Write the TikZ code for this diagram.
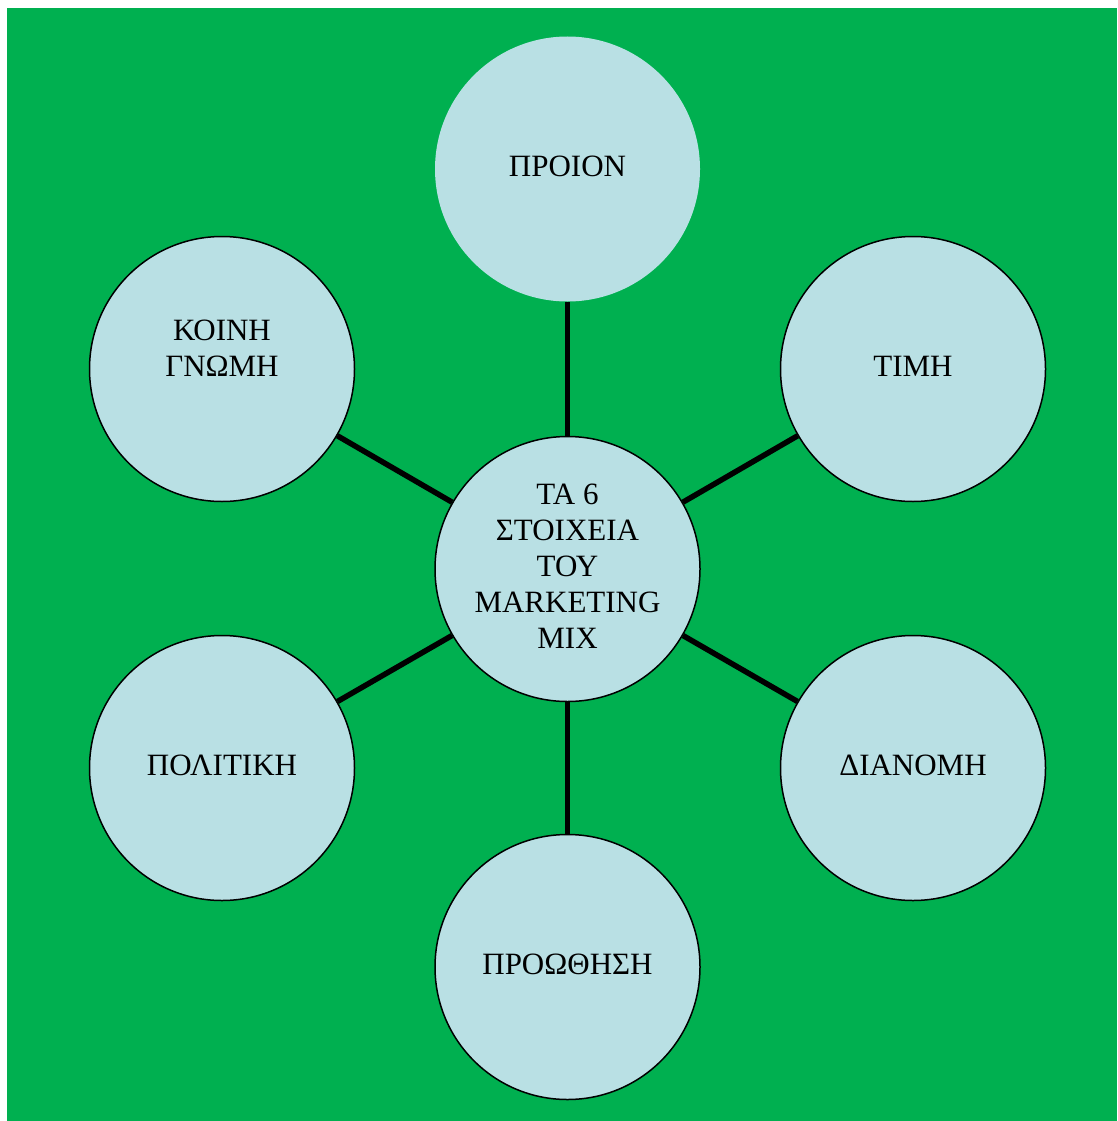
\documentclass[tikz,border=0pt]{standalone}
\usepackage{fontspec}
\setmainfont{Liberation Serif}
\definecolor{bggreen}{HTML}{00B050}
\definecolor{bubble}{HTML}{B9E0E4}
\begin{document}
\begin{tikzpicture}[x=1pt,y=-1pt,
  bubblenode/.style={circle,fill=bubble,minimum size=265pt,inner sep=0pt,
    align=center,text depth=6pt,font=\fontsize{31}{36}\selectfont},
  outlined/.style={bubblenode,draw=black,line width=1.5pt},
  spoke/.style={line width=5.5pt,black}]
\useasboundingbox (0,0) rectangle (1117,1121);
\fill[bggreen] (7,8) rectangle (1117,1121);

\node[bubblenode] (prod) at (567.5,169) {ΠΡΟΙΟΝ};
\node[outlined] (mix) at (567.5,569) {ΤΑ 6\\ΣΤΟΙΧΕΙΑ\\ΤΟΥ\\MARKETING\\MIX};
\node[outlined] (price) at (913,369) {ΤΙΜΗ};
\node[outlined] (dist) at (913,768) {ΔΙΑΝΟΜΗ};
\node[outlined] (promo) at (567.5,967) {ΠΡΟΩΘΗΣΗ};
\node[outlined] (pol) at (222,768) {ΠΟΛΙΤΙΚΗ};
\node[outlined] (opin) at (222,369) {ΚΟΙΝΗ\\ΓΝΩΜΗ\\\phantom{Χ}};

\foreach \n in {prod,price,dist,promo,pol,opin}
  \draw[spoke] (mix) -- (\n);
\end{tikzpicture}
\end{document}
